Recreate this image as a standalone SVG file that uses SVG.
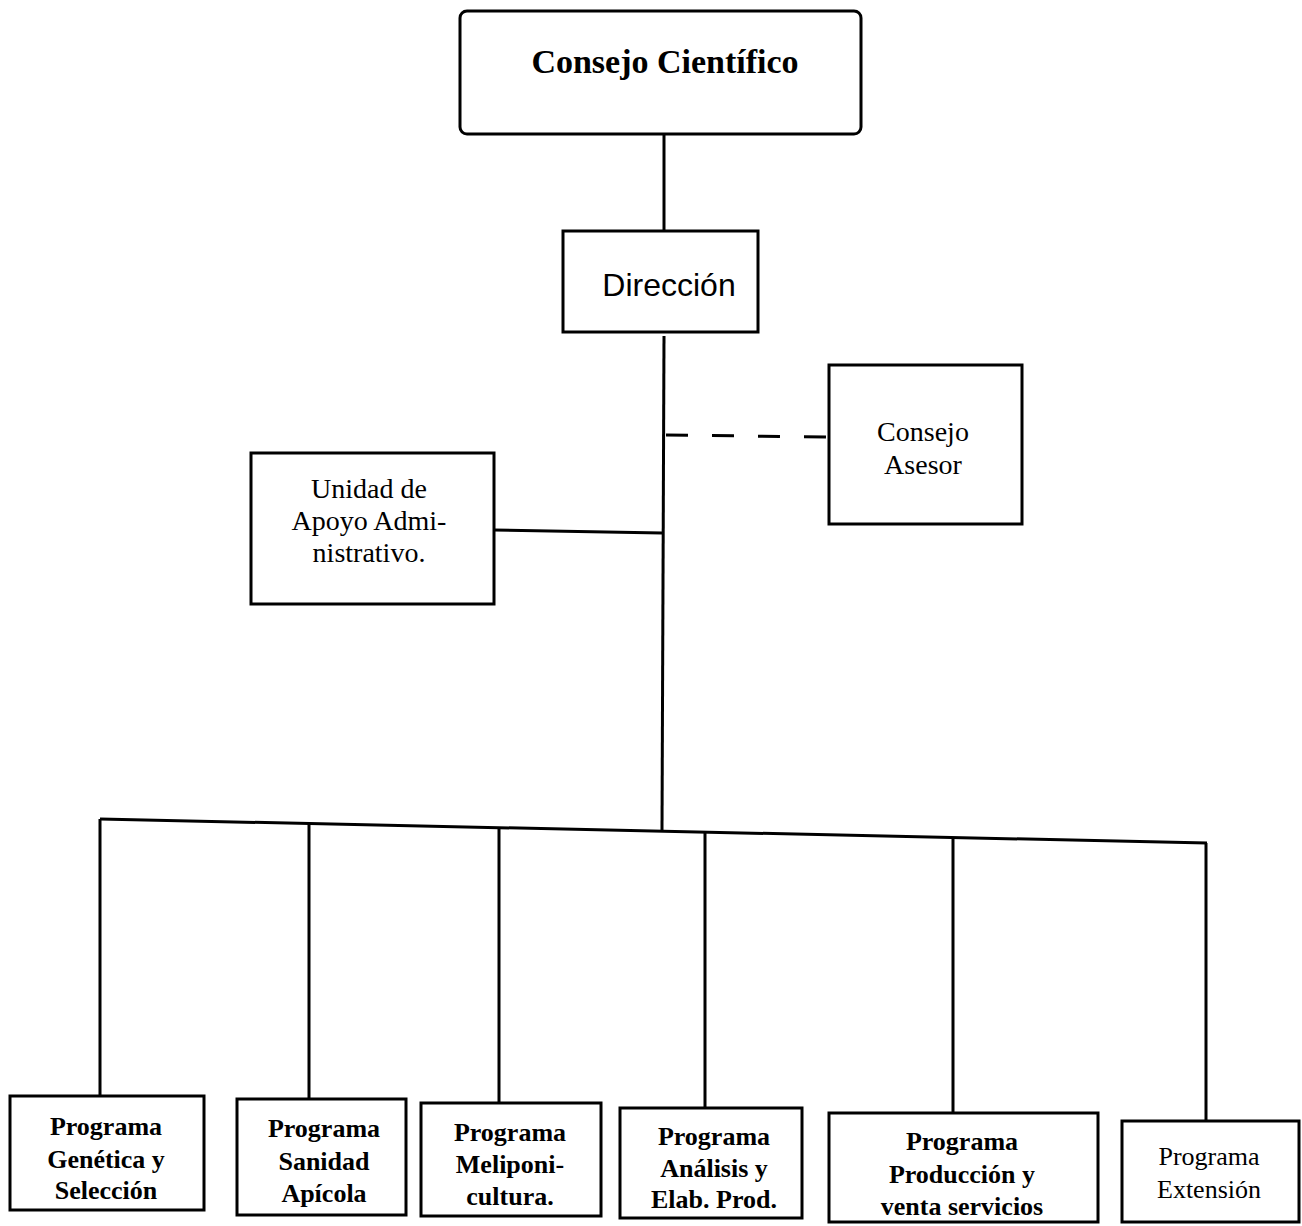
<svg xmlns="http://www.w3.org/2000/svg" width="1302" height="1226" viewBox="0 0 1302 1226">
<style>
.box{fill:#fff;stroke:#000;stroke-width:3}
.ln{fill:none;stroke:#000;stroke-width:3}
.dash{fill:none;stroke:#000;stroke-width:3;stroke-dasharray:22 24}
.serif{font-family:"Liberation Serif","Times New Roman",serif;text-anchor:middle;fill:#000}
.sans{font-family:"Liberation Sans",Arial,sans-serif;text-anchor:middle;fill:#000}
.prog{font-family:"Liberation Serif","Times New Roman",serif;text-anchor:middle;fill:#000;font-size:26px;font-weight:bold}
</style>
<rect width="1302" height="1226" fill="#fff"/>
<g id="connectors">
<line class="ln" x1="664" y1="134" x2="664" y2="232"/>
<line class="ln" x1="664" y1="336" x2="662" y2="830"/>
<line class="dash" x1="666" y1="435" x2="829" y2="437"/>
<line class="ln" x1="494" y1="530" x2="662" y2="533"/>
<line class="ln" x1="100" y1="819" x2="1207" y2="843"/>
<line class="ln" x1="100" y1="819" x2="100" y2="1096"/>
<line class="ln" x1="309" y1="824" x2="309" y2="1099"/>
<line class="ln" x1="499" y1="828" x2="499" y2="1103"/>
<line class="ln" x1="705" y1="832" x2="705" y2="1108"/>
<line class="ln" x1="953" y1="838" x2="953" y2="1113"/>
<line class="ln" x1="1206" y1="843" x2="1206" y2="1121"/>
</g>
<g id="consejo-cientifico">
<rect class="box" x="460" y="11" width="401" height="123" rx="7"/>
<text class="serif" x="665" y="73" font-size="34" font-weight="bold">Consejo Científico</text>
</g>
<g id="direccion">
<rect class="box" x="563" y="231" width="195" height="101"/>
<text class="sans" x="669" y="296" font-size="32">Dirección</text>
</g>
<g id="consejo-asesor">
<rect class="box" x="829" y="365" width="193" height="159"/>
<text class="serif" x="923" y="441" font-size="28">Consejo</text>
<text class="serif" x="923" y="474" font-size="28">Asesor</text>
</g>
<g id="unidad-apoyo">
<rect class="box" x="251" y="453" width="243" height="151"/>
<text class="serif" x="369" y="498" font-size="28">Unidad de</text>
<text class="serif" x="369" y="530" font-size="28">Apoyo Admi-</text>
<text class="serif" x="369" y="562" font-size="28">nistrativo.</text>
</g>
<g id="prog-genetica">
<rect class="box" x="10" y="1096" width="194" height="114"/>
<text class="prog" x="106" y="1135">Programa</text>
<text class="prog" x="106" y="1168">Genética y</text>
<text class="prog" x="106" y="1199">Selección</text>
</g>
<g id="prog-sanidad">
<rect class="box" x="237" y="1099" width="169" height="116"/>
<text class="prog" x="324" y="1137">Programa</text>
<text class="prog" x="324" y="1170">Sanidad</text>
<text class="prog" x="324" y="1202">Apícola</text>
</g>
<g id="prog-meliponicultura">
<rect class="box" x="421" y="1103" width="180" height="113"/>
<text class="prog" x="510" y="1141">Programa</text>
<text class="prog" x="510" y="1173">Meliponi-</text>
<text class="prog" x="510" y="1205">cultura.</text>
</g>
<g id="prog-analisis">
<rect class="box" x="620" y="1108" width="182" height="110"/>
<text class="prog" x="714" y="1145">Programa</text>
<text class="prog" x="714" y="1177">Análisis y</text>
<text class="prog" x="714" y="1208">Elab. Prod.</text>
</g>
<g id="prog-produccion">
<rect class="box" x="829" y="1113" width="269" height="109"/>
<text class="prog" x="962" y="1150">Programa</text>
<text class="prog" x="962" y="1183">Producción y</text>
<text class="prog" x="962" y="1215">venta servicios</text>
</g>
<g id="prog-extension">
<rect class="box" x="1122" y="1121" width="177" height="101"/>
<text class="serif" x="1209" y="1165" font-size="26">Programa</text>
<text class="serif" x="1209" y="1198" font-size="26">Extensión</text>
</g>
</svg>
